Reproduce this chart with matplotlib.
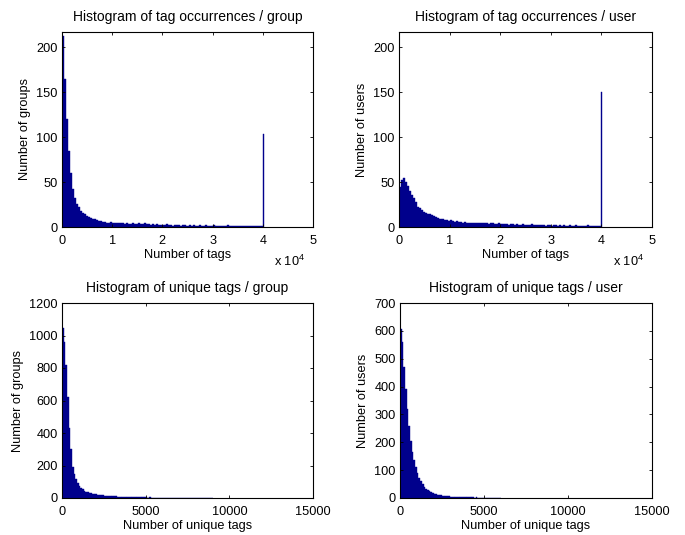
import numpy as np
import matplotlib
matplotlib.use("Agg")
import matplotlib.pyplot as plt

plt.rcParams['font.family'] = ['Liberation Sans', 'DejaVu Sans']
plt.rcParams['mathtext.fontset'] = 'custom'
plt.rcParams['mathtext.rm'] = 'Liberation Sans'

# ---------------- data ----------------
# tag occurrences per group: counts in bins of 400 tags from 0 to 40000
occ_bin_width = 400
group_occ_counts = [
    212, 165, 120, 85, 60, 42, 32, 26, 22, 18,
    16, 14, 12, 11, 10, 9, 9, 8, 7, 7,
    6, 6, 5, 5, 6, 5, 4, 5, 4, 4,
    4, 3, 4, 3, 3, 4, 3, 3, 4, 3,
    3, 4, 3, 3, 2, 3, 2, 3, 2, 2,
    2, 2, 3, 2, 2, 1, 2, 2, 2, 1,
    2, 2, 1, 2, 1, 2, 1, 1, 2, 1,
    1, 2, 1, 1, 1, 2, 1, 1, 1, 1,
    1, 1, 2, 1, 1, 1, 1, 1, 1, 1,
    1, 1, 1, 1, 1, 1, 1, 1, 1, 1,
]
group_cap_count = 104      # groups at the 40000 cap

user_occ_counts = [
    45, 52, 55, 50, 46, 40, 36, 32, 28, 22,
    21, 19, 17, 16, 15, 14, 13, 12, 11, 10,
    9, 9, 8, 8, 7, 8, 7, 6, 7, 6,
    6, 5, 6, 5, 5, 5, 4, 5, 4, 4,
    4, 5, 4, 4, 3, 4, 4, 3, 3, 4,
    3, 3, 3, 3, 2, 3, 3, 2, 3, 2,
    2, 3, 2, 2, 2, 3, 2, 2, 2, 2,
    2, 2, 1, 2, 2, 1, 2, 2, 1, 2,
    1, 2, 1, 1, 2, 1, 1, 2, 1, 1,
    1, 1, 1, 2, 1, 1, 1, 1, 1, 1,
]
user_cap_count = 150       # users at the 40000 cap
cap_value = 40000
cap_bin_width = 200

# unique tags: counts in bins of 100 unique tags
uniq_bin_width = 100
group_uniq_counts = [
    1045, 960, 820, 620, 430, 300, 190, 145, 115, 92,
    76, 64, 54, 45, 40, 35, 33, 30, 27, 24,
    22, 20, 19, 17, 16, 15, 14, 13, 12, 12,
    11, 10, 10, 9, 9, 8, 8, 7, 7, 7,
    6, 6, 5, 6, 5, 5, 4, 5, 4, 4,
    4, 3, 4, 3, 3, 3, 2, 3, 2, 2,
    2, 2, 2, 1, 2, 1, 2, 1, 1, 2,
    1, 1, 1, 1, 1, 0, 1, 1, 0, 1,
    1, 0, 1, 1, 0, 1, 0, 0, 1, 0,
]
user_uniq_counts = [
    605, 560, 470, 390, 320, 260, 205, 165, 135, 110,
    90, 72, 60, 50, 40, 34, 28, 24, 20, 17,
    14, 13, 11, 10, 9, 8, 8, 7, 6, 6,
    5, 5, 4, 4, 4, 3, 3, 3, 3, 2,
    2, 2, 2, 2, 1, 2, 1, 1, 1, 1,
    1, 1, 0, 1, 1, 0, 1, 0, 1, 0,
]

titles = ["Histogram of tag occurrences / group",
          "Histogram of tag occurrences / user",
          "Histogram of unique tags / group",
          "Histogram of unique tags / user"]
ylabels = ["Number of groups", "Number of users",
           "Number of groups", "Number of users"]
xlabels = ["Number of tags", "Number of tags",
           "Number of unique tags", "Number of unique tags"]
occ_xticks = [0, 10000, 20000, 30000, 40000, 50000]
occ_xticklabels = ["0", "1", "2", "3", "4", "5"]
uniq_xticks = [0, 5000, 10000, 15000]
occ_yticks = [0, 50, 100, 150, 200]
group_uniq_yticks = [0, 200, 400, 600, 800, 1000, 1200]
user_uniq_yticks = [0, 100, 200, 300, 400, 500, 600, 700]

BAR = '#00008C'
FS = 9.2
TFS = 10

fig = plt.figure(figsize=(6.85, 5.35), dpi=100)
W, H = 685, 535
def rect(l, r, t, b):
    return [l / W, (H - b) / H, (r - l) / W, (b - t) / H]

axes = [fig.add_axes(rect(62, 313, 32, 227)),
        fig.add_axes(rect(399, 652, 32, 227)),
        fig.add_axes(rect(62, 313, 303, 498)),
        fig.add_axes(rect(400, 652, 303, 498))]

def draw_hist(ax, counts, bw):
    edges = np.arange(len(counts)) * bw
    ax.bar(edges, counts, width=bw, align='edge', color=BAR,
           edgecolor=BAR, linewidth=0.3)

draw_hist(axes[0], group_occ_counts, occ_bin_width)
axes[0].bar([cap_value], [group_cap_count], width=cap_bin_width, align='edge',
            color=BAR, edgecolor=BAR, linewidth=0.3)
draw_hist(axes[1], user_occ_counts, occ_bin_width)
axes[1].bar([cap_value], [user_cap_count], width=cap_bin_width, align='edge',
            color=BAR, edgecolor=BAR, linewidth=0.3)
draw_hist(axes[2], group_uniq_counts, uniq_bin_width)
draw_hist(axes[3], user_uniq_counts, uniq_bin_width)

for i, ax in enumerate(axes):
    ax.set_title(titles[i], fontsize=TFS, pad=8)
    ax.set_xlabel(xlabels[i], fontsize=FS, labelpad=2)
    ax.set_ylabel(ylabels[i], fontsize=FS, labelpad=4)
    ax.tick_params(direction='in', top=True, right=True, length=2.5,
                   width=0.6, labelsize=FS)
    ax.tick_params(axis='x', pad=5.5)
    ax.tick_params(axis='y', pad=3)
    for s in ax.spines.values():
        s.set_linewidth(0.8)

for ax in axes[:2]:
    ax.set_xlim(0, 50000)
    ax.set_ylim(0, 217)
    ax.set_xticks(occ_xticks)
    ax.set_xticklabels(occ_xticklabels)
    ax.set_yticks(occ_yticks)
    ax.text(0.97, -0.175, r'x 10$^{4}$', transform=ax.transAxes,
            ha='right', va='center', fontsize=FS)

axes[2].set_xlim(0, 15000)
axes[2].set_ylim(0, 1200)
axes[2].set_xticks(uniq_xticks)
axes[2].set_yticks(group_uniq_yticks)
axes[3].set_xlim(0, 15000)
axes[3].set_ylim(0, 700)
axes[3].set_xticks(uniq_xticks)
axes[3].set_yticks(user_uniq_yticks)

fig.savefig("out.png", dpi=100)
